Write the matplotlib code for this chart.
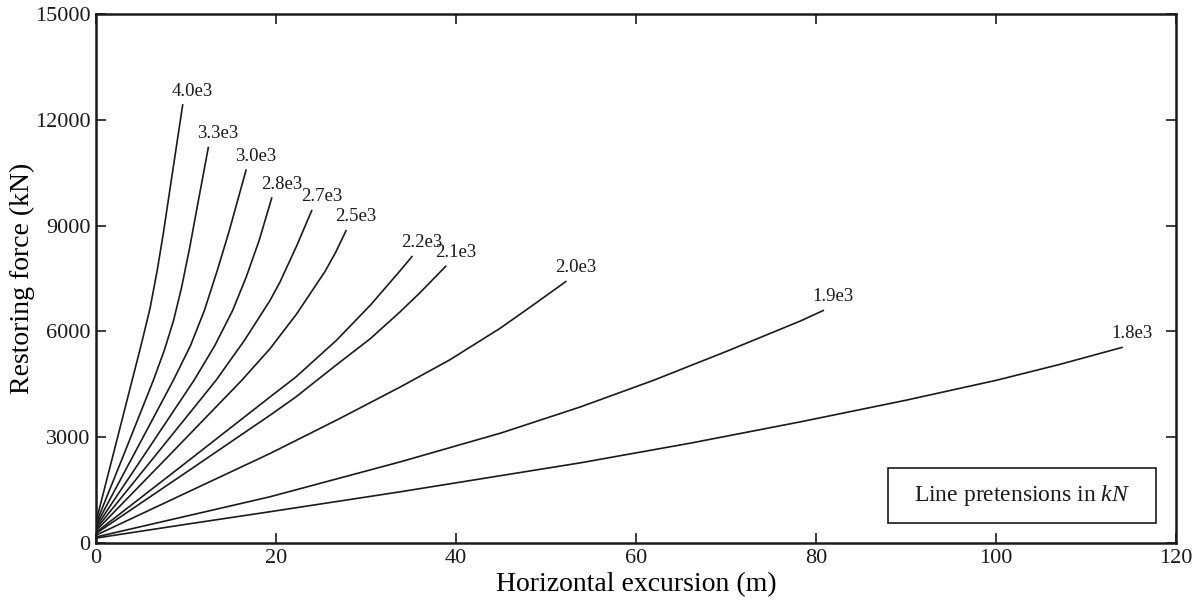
import matplotlib
matplotlib.use("Agg")
import matplotlib.pyplot as plt
from matplotlib.patches import Rectangle

plt.rcParams['font.family'] = ['Liberation Serif', 'DejaVu Serif']
plt.rcParams['mathtext.fontset'] = 'custom'
plt.rcParams['mathtext.rm'] = 'Liberation Serif'
plt.rcParams['mathtext.it'] = 'Liberation Serif:italic'

# pretension labels (kN)
pretensions = ['4.0e3', '3.3e3', '3.0e3', '2.8e3', '2.7e3', '2.5e3',
               '2.2e3', '2.1e3', '2.0e3', '1.9e3', '1.8e3']

# excursion (m) / restoring force (kN)
x_40 = [0, 2.5, 5.0, 6.0, 6.8, 7.5, 8.3, 9.63]
y_40 = [600, 3100, 5600, 6650, 7730, 8815, 10175, 12425]
x_33 = [0, 3.0, 6.37, 7.6, 8.6, 9.5, 10.4, 11.4, 12.48]
y_33 = [550, 2450, 4613, 5474, 6294, 7239, 8364, 9744, 11217]
x_30 = [0, 4.5, 8.59, 10.5, 12.04, 13.5, 14.8, 16.67]
y_30 = [500, 2650, 4613, 5600, 6594, 7750, 8850, 10576]
x_28 = [0, 5.5, 10.89, 13.2, 15.18, 16.7, 18.15, 19.52]
y_28 = [450, 2550, 4613, 5600, 6594, 7550, 8600, 9783]
x_27 = [0, 6.5, 13.33, 16.5, 19.33, 20.44, 22.3, 23.96]
y_27 = [400, 2450, 4613, 5750, 6877, 7400, 8430, 9425]
x_25 = [0, 8.0, 16.19, 19.33, 22.3, 25.44, 26.6, 27.78]
y_25 = [350, 2450, 4613, 5510, 6500, 7700, 8230, 8858]
x_22 = [0, 10, 19.33, 22.2, 26.7, 30.5, 33.8, 35.1]
y_22 = [300, 2280, 4141, 4707, 5745, 6750, 7726, 8123]
x_21 = [0, 10, 19.33, 22.2, 26.7, 30.5, 33.8, 36.0, 38.86]
y_21 = [270, 2000, 3623, 4141, 5050, 5800, 6560, 7100, 7849]
x_20 = [0, 10, 19.33, 27, 33.8, 39.3, 44.9, 48.6, 52.2]
y_20 = [220, 1420, 2538, 3520, 4424, 5194, 6090, 6756, 7415]
x_19 = [0, 10, 19.33, 33.8, 45, 53.8, 62, 70, 78.2, 80.8]
y_19 = [170, 760, 1311, 2301, 3120, 3858, 4620, 5430, 6290, 6594]
x_18 = [0, 10, 19.33, 33.8, 53.8, 66, 78.2, 90, 100, 107, 114]
y_18 = [140, 530, 887, 1452, 2273, 2830, 3433, 4050, 4613, 5060, 5547]

curves_x = [x_40, x_33, x_30, x_28, x_27, x_25, x_22, x_21, x_20, x_19, x_18]
curves_y = [y_40, y_33, y_30, y_28, y_27, y_25, y_22, y_21, y_20, y_19, y_18]

x_ticks = [0, 20, 40, 60, 80, 100, 120]
y_ticks = [0, 3000, 6000, 9000, 12000, 15000]

fig = plt.figure(figsize=(12, 6.03), dpi=100)
ax = fig.add_axes([0.08, 0.0995, 0.9, 0.877])

for xs, ys, lab in zip(curves_x, curves_y, pretensions):
    ax.plot(xs, ys, color='#1a1a1a', lw=1.2)
    ax.annotate(lab, (xs[-1], ys[-1]), xytext=(7, 10), textcoords='offset points',
                ha='center', va='center', fontsize=13.5, color='#1a1a1a')

ax.set_xlim(0, 120)
ax.set_ylim(0, 15000)
ax.set_xticks(x_ticks)
ax.set_yticks(y_ticks)
ax.tick_params(direction='in', length=7, width=1.2, top=True, right=True,
               labelsize=16, colors='#1a1a1a')
ax.tick_params(axis='x', pad=4)
ax.tick_params(axis='y', pad=4)
for sp in ax.spines.values():
    sp.set_linewidth(1.8)
    sp.set_color('#1a1a1a')

ax.set_xlabel('Horizontal excursion (m)', fontsize=20, labelpad=3)
ax.set_ylabel('Restoring force (kN)', fontsize=20, labelpad=0)

# legend box
ax.add_patch(Rectangle((88.0, 566), 29.8, 1557, fill=False, lw=1.2, ec='#1a1a1a'))
ax.text(102.9, 1344, r'Line pretensions in $\mathit{kN}$', ha='center', va='center',
        fontsize=17, color='#1a1a1a')

fig.savefig('out.png', dpi=100)
